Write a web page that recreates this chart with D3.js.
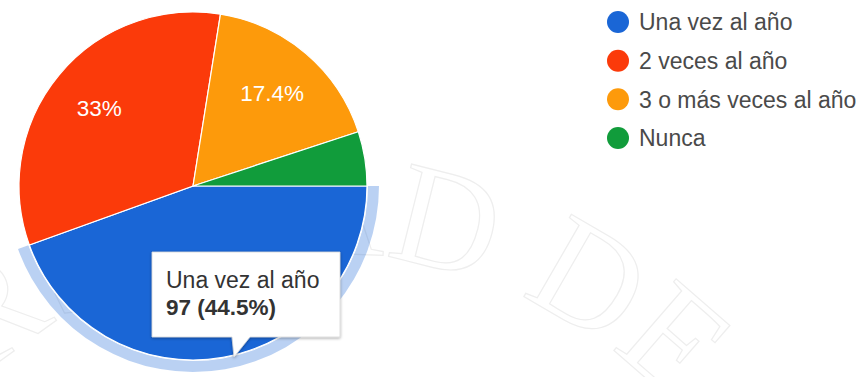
<!DOCTYPE html>
<html>
<head>
<meta charset="utf-8">
<script src="https://cdn.jsdelivr.net/npm/d3@7"></script>
<style>
  html, body { margin: 0; padding: 0; background: #fff; }
  svg { display: block; }
</style>
</head>
<body>
<svg id="chart" width="868" height="377"></svg>
<script>
// Answers per category
const categories = ["Una vez al año", "2 veces al año", "3 o más veces al año", "Nunca"];
const counts = [97, 72, 38, 11];
const colors = ["#1a66d6", "#fb3a0a", "#fd9a0b", "#119c3b"];
// Slice shown with the hover ring and tooltip
const focusIndex = 0;
// Faint seal lettering behind the chart
const sealText = "UNIVERSIDAD DE";

const W = 868, H = 377;
const svg = d3.select("#chart");
const font = "'Liberation Sans', Arial, sans-serif";

const cx = 193, cy = 186, R = 174;
const total = d3.sum(counts);
const data = categories.map((c, i) => ({ name: c, value: counts[i], color: colors[i] }));
const pct = v => Math.round(v / total * 1000) / 10;

// ---- seal watermark (outlined serif letters on a large arc) ----
(function drawSeal() {
  const sx = 313, sy = 758, rb = 505, fs = 145;
  const g = svg.append("g");
  const probe = g.append("text")
    .attr("font-family", "'Liberation Serif', 'DejaVu Serif', serif")
    .attr("font-size", fs).text(sealText);
  const node = probe.node();
  const chars = sealText.split("");
  const centers = chars.map((ch, i) => {
    const start = node.getStartPositionOfChar(i).x;
    const end = node.getEndPositionOfChar(i).x;
    return (start + end) / 2;
  });
  probe.remove();
  const anchorIdx = sealText.lastIndexOf("D");
  const anchorAngle = 30 * Math.PI / 180;
  chars.forEach((ch, i) => {
    if (ch === " ") return;
    const a = anchorAngle + (centers[i] - centers[anchorIdx]) / rb;
    const x = sx + rb * Math.sin(a), y = sy - rb * Math.cos(a);
    // only letters whose baseline point falls inside the drawing area
    if (x < 0 || x > W || y > H) return;
    g.append("text")
      .attr("transform", `translate(${x},${y}) rotate(${a * 180 / Math.PI})`)
      .attr("text-anchor", "middle")
      .attr("font-family", "'Liberation Serif', 'DejaVu Serif', serif")
      .attr("font-size", fs)
      .attr("fill", "none")
      .attr("stroke", "#eeeeee")
      .attr("stroke-width", 1.2)
      .text(ch);
  });
})();

// ---- pie ----
const pie = d3.pie().sort(null).value(d => d.value)
  .startAngle(Math.PI / 2).endAngle(Math.PI / 2 + 2 * Math.PI);
const arcs = pie(data);
const arc = d3.arc().innerRadius(0).outerRadius(R);
const ringArc = d3.arc().innerRadius(R + 1).outerRadius(R + 12);
const labelArc = d3.arc().innerRadius(R * 0.7).outerRadius(R * 0.7);

const pg = svg.append("g").attr("transform", `translate(${cx},${cy})`);

// hover ring around focused slice
pg.append("path")
  .attr("d", ringArc(arcs[focusIndex]))
  .attr("fill", colors[focusIndex])
  .attr("fill-opacity", 0.3);

pg.selectAll("path.slice").data(arcs).join("path")
  .attr("class", "slice")
  .attr("d", arc)
  .attr("fill", d => d.data.color)
  .attr("stroke", "#fff")
  .attr("stroke-width", 1.2);

// percentage labels (small slices stay unlabeled; the focused one sits under the tooltip)
pg.selectAll("text.pct")
  .data(arcs.filter(d => d.data.value / total > 0.06 && d.index !== focusIndex))
  .join("text")
  .attr("class", "pct")
  .attr("transform", d => `translate(${labelArc.centroid(d)})`)
  .attr("text-anchor", "middle")
  .attr("dy", "0.36em")
  .attr("font-family", font)
  .attr("font-size", 22.5)
  .attr("fill", "#fff")
  .text(d => pct(d.data.value) + "%");

// ---- legend ----
const legendY = d3.scalePoint().domain(categories).range([22, 138]);
const lg = svg.append("g");
const rows = lg.selectAll("g").data(data).join("g")
  .attr("transform", d => `translate(618,${legendY(d.name)})`);
rows.append("circle").attr("r", 11).attr("fill", d => d.color);
rows.append("text")
  .attr("x", 21).attr("dy", "0.36em")
  .attr("font-family", font)
  .attr("font-size", 23)
  .attr("fill", "#4a4a4a")
  .text(d => d.name);

// ---- tooltip for focused slice ----
const defs = svg.append("defs");
const f = defs.append("filter").attr("id", "tipShadow")
  .attr("x", "-10%").attr("y", "-10%").attr("width", "130%").attr("height", "140%");
f.append("feDropShadow").attr("dx", 0).attr("dy", 1).attr("stdDeviation", 1.5)
  .attr("flood-color", "#000").attr("flood-opacity", 0.35);

const tip = svg.append("g").attr("transform", "translate(152,252)");
const tw = 188, th = 85;
tip.append("path")
  .attr("d", `M0,0H${tw}V${th}H${98}L${82},${th + 20}L${80},${th}H0Z`)
  .attr("fill", "#fff")
  .attr("stroke", "#d6d6d6")
  .attr("stroke-width", 0.8)
  .attr("filter", "url(#tipShadow)");
const focus = data[focusIndex];
tip.append("text")
  .attr("x", 14).attr("y", 36)
  .attr("font-family", font).attr("font-size", 23).attr("fill", "#333")
  .text(focus.name);
tip.append("text")
  .attr("x", 14).attr("y", 63)
  .attr("font-family", font).attr("font-size", 22.5).attr("font-weight", "bold").attr("fill", "#333")
  .text(`${focus.value} (${pct(focus.value)}%)`);
</script>
</body>
</html>
